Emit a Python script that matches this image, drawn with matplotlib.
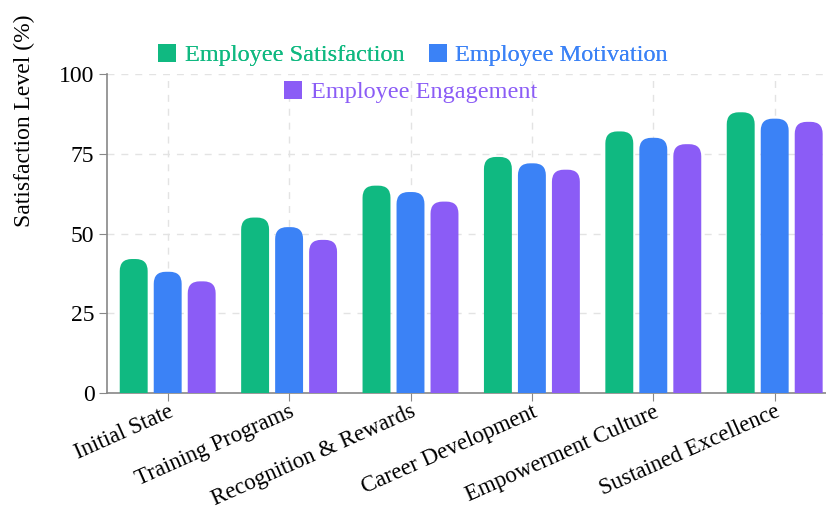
import matplotlib
matplotlib.use("Agg")
import matplotlib.pyplot as plt
from matplotlib.patches import FancyBboxPatch, Patch

plt.rcParams['font.family'] = ['Liberation Serif', 'DejaVu Serif']

categories = ["Initial State", "Training Programs", "Recognition & Rewards",
              "Career Development", "Empowerment Culture", "Sustained Excellence"]
series_names = ["Employee Satisfaction", "Employee Motivation", "Employee Engagement"]
satisfaction = [42, 55, 65, 74, 82, 88]
motivation = [38, 52, 63, 72, 80, 86]
engagement = [35, 48, 60, 70, 78, 85]
colors = ["#10b981", "#3b82f6", "#8b5cf6"]

W, H = 826, 514
fig = plt.figure(figsize=(W / 100, H / 100), dpi=100)
# axes placed in pixels: left 107, bottom 393, top 74, right at the edge
ax_left, ax_bottom, ax_top = 107, 393, 74
ax = fig.add_axes([ax_left / W, 1 - ax_bottom / H, (W - ax_left) / W, (ax_bottom - ax_top) / H])

group_px = 121.4
xmax = -0.5 + (W - ax_left) / group_px
ax.set_xlim(-0.5, xmax)
ax.set_ylim(0, 100)

# data units per pixel, used to keep the rounded tops circular
x_per_px = (xmax + 0.5) / (W - ax_left)
y_per_px = 100 / (ax_bottom - ax_top)
aspect = y_per_px / x_per_px

offsets = [-0.28, 0.0, 0.28]
bar_w = 0.23
radius = 12 * x_per_px
x = list(range(len(categories)))

for vals, off, col in zip([satisfaction, motivation, engagement], offsets, colors):
    bars = ax.bar([i + off for i in x], vals, width=bar_w, color=col)
    for r in bars.patches:
        bx, bwid, bh = r.get_x(), r.get_width(), r.get_height()
        r.remove()
        ext = radius * aspect + 1
        fp = FancyBboxPatch((bx, -ext), bwid, bh + ext,
                            boxstyle=f"round,pad=0,rounding_size={radius}",
                            mutation_aspect=aspect, fc=col, ec="none", zorder=3)
        ax.add_patch(fp)

ax.set_yticks([0, 25, 50, 75, 100])
ax.set_xticks(x)
ax.set_xticklabels(categories, rotation=24, ha="right", va="top",
                   rotation_mode="anchor", fontsize=16.5)
ax.tick_params(axis="y", labelsize=17, length=6, color="#888888", pad=3)
ax.tick_params(axis="x", length=6, color="#888888", pad=0)

fig.text(24 / W, 1 - 121 / H, "Satisfaction Level (%)", rotation=90,
         ha="center", va="center", fontsize=17)

ax.grid(True, linestyle=(0, (5, 5)), color="#e3e3e3", linewidth=1, zorder=0)
ax.set_axisbelow(True)
for s in ["top", "right"]:
    ax.spines[s].set_visible(False)
for s in ["left", "bottom"]:
    ax.spines[s].set_color("#888888")
    ax.spines[s].set_linewidth(1.2)

handles = [Patch(fc=c, ec="none") for c in colors]
leg1 = fig.legend(handles[:2], series_names[:2], loc="center", bbox_to_anchor=(0.500, 0.893),
                  ncol=2, frameon=False, fontsize=17.5, handlelength=0.75, handleheight=0.75,
                  handletextpad=0.35, columnspacing=1.0, labelcolor=colors[:2])
fig.add_artist(leg1)
fig.legend(handles[2:], series_names[2:], loc="center", bbox_to_anchor=(0.497, 0.821),
           frameon=False, fontsize=17.5, handlelength=0.75, handleheight=0.75,
           handletextpad=0.35, labelcolor=colors[2:])

fig.savefig("out.png", dpi=100)
